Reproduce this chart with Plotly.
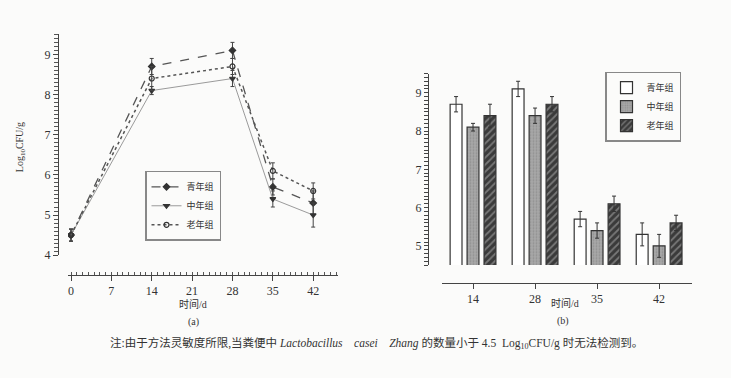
import plotly.graph_objects as go

# ---------- data ----------
days = [0, 14, 28, 35, 42]
groups = ["青年组", "中年组", "老年组"]
line_young = [4.5, 8.7, 9.1, 5.7, 5.3]
line_mid = [4.5, 8.1, 8.4, 5.4, 5.0]
line_old = [4.5, 8.4, 8.7, 6.1, 5.6]
err_young = [0.15, 0.2, 0.2, 0.2, 0.3]
err_mid = [0.15, 0.1, 0.2, 0.2, 0.3]
err_old = [0.15, 0.3, 0.2, 0.2, 0.2]

bar_days = ["14", "28", "35", "42"]
bar_young = [8.7, 9.1, 5.7, 5.3]
bar_mid = [8.1, 8.4, 5.4, 5.0]
bar_old = [8.4, 8.7, 6.1, 5.6]
berr_young = [0.2, 0.2, 0.2, 0.3]
berr_mid = [0.1, 0.2, 0.2, 0.3]
berr_old = [0.3, 0.2, 0.2, 0.2]

# tick marks of panel (b) y axis: every 0.1, labelled at integers
b_tick_vals = [round(4.5 + 0.1 * i, 1) for i in range(51)]
b_tick_text = [str(int(v)) if abs(v - round(v)) < 1e-9 else "" for v in b_tick_vals]

W, H = 731, 378
FONT = "Liberation Serif, Noto Sans CJK SC, serif"
DARK = "#333333"

fig = go.Figure()

line_specs = [
    (groups[0], line_young, err_young, "dash", "#555555", "diamond", DARK, 1.3),
    (groups[1], line_mid, err_mid, "solid", "#9a9a9a", "triangle-down", DARK, 1.0),
    (groups[2], line_old, err_old, "dot", "#555555", "circle-open", DARK, 1.5),
]
for name, vals, errs, dash, lc, sym, mc, lw in line_specs:
    fig.add_trace(go.Scatter(
        x=days, y=vals, name=name, mode="lines+markers",
        line=dict(color=lc, dash=dash, width=lw),
        marker=dict(symbol=sym, size=5, color=mc, line=dict(color=mc, width=1.2)),
        error_y=dict(type="data", array=errs, color="#444444", thickness=1, width=2),
        xaxis="x", yaxis="y", legend="legend",
    ))

bar_specs = [
    (groups[0], bar_young, berr_young, dict(color="white", line=dict(color=DARK, width=1.2))),
    (groups[1], bar_mid, berr_mid, dict(color="#9c9c9c", line=dict(color=DARK, width=1.2),
                                        pattern=dict(shape=".", fgcolor="#777777", bgcolor="#a8a8a8", size=3, solidity=0.3))),
    (groups[2], bar_old, berr_old, dict(color="#3a3a3a", line=dict(color=DARK, width=1.2),
                                        pattern=dict(shape="/", fgcolor="#b5b5b5", bgcolor="#3a3a3a", size=5, solidity=0.35))),
]
for name, vals, errs, mk in bar_specs:
    fig.add_trace(go.Bar(
        x=bar_days, y=vals, name=name, marker=mk,
        error_y=dict(type="data", array=errs, color="#333333", thickness=1, width=2),
        xaxis="x2", yaxis="y2", legend="legend2",
    ))

def px_x(p):
    return p / W

def px_y(p):
    return 1 - p / H

axis_common = dict(showline=True, linecolor="#444444", linewidth=1.2, showgrid=False,
                   zeroline=False, ticks="outside", tickcolor="#444444",
                   tickfont=dict(family=FONT, size=12, color=DARK))

MINOR_Y = dict(ticks="outside", dtick=0.1, ticklen=4, tickcolor="#555555", tickwidth=1)
MINOR_X = dict(ticks="inside", dtick=1, ticklen=3, tickcolor="#555555", tickwidth=1)

fig.update_layout(
    width=W, height=H,
    margin=dict(l=0, r=0, t=0, b=0),
    paper_bgcolor="#fbfbfa", plot_bgcolor="rgba(0,0,0,0)",
    font=dict(family=FONT, color=DARK),
    barmode="group", bargap=0.18, bargroupgap=0.3,
    xaxis=dict(**axis_common, domain=[px_x(68), px_x(338)], range=[-0.52, 46.3],
               anchor="free", position=px_y(280), dtick=7, tick0=0, ticklen=5,
               minor=MINOR_X),
    yaxis=dict(**axis_common, domain=[px_y(260), px_y(35)], range=[4, 9.5],
               anchor="free", position=px_x(58), dtick=1, ticklen=5,
               minor=MINOR_Y),
    xaxis2=dict(**axis_common, domain=[px_x(442), px_x(692)], range=[-0.5, 3.53],
                anchor="free", position=px_y(288), ticklen=5, type="category"),
    yaxis2=dict(**axis_common, domain=[px_y(270), px_y(75)], range=[4.5, 9.5],
                anchor="free", position=px_x(428), tickmode="array",
                tickvals=b_tick_vals, ticktext=b_tick_text, ticklen=4),
    legend=dict(x=px_x(145), y=px_y(174), xanchor="left", yanchor="top",
                bgcolor="rgba(0,0,0,0)", bordercolor="#888888", borderwidth=1.5,
                font=dict(family=FONT, size=9, color=DARK), itemwidth=30,
                tracegroupgap=0),
    legend2=dict(x=px_x(605), y=px_y(73), xanchor="left", yanchor="top",
                 bgcolor="rgba(0,0,0,0)", bordercolor="#888888", borderwidth=1.5,
                 font=dict(family=FONT, size=9, color=DARK), itemwidth=30,
                 tracegroupgap=0),
    showlegend=True,
)

def note(text, x, y, size=10, angle=0):
    fig.add_annotation(text=text, x=px_x(x), y=px_y(y), xref="paper", yref="paper",
                       showarrow=False, textangle=angle,
                       font=dict(family=FONT, size=size, color=DARK),
                       xanchor="center", yanchor="middle")

note("Log<sub>10</sub>CFU/g", 20, 150, size=10, angle=-90)
note("时间/d", 193, 310, size=10)
note("(a)", 193, 328, size=10)
note("时间/d", 565, 309, size=10)
note("(b)", 563, 327, size=10)
note("注:由于方法灵敏度所限,当粪便中 <i>Lactobacillus    casei    Zhang</i> 的数量小于 4.5  Log<sub>10</sub>CFU/g 时无法检测到。",
     376, 350, size=11.5)

fig.write_html("out.html", config={"displayModeBar": False},
               post_script="document.body.style.margin='0px';")
